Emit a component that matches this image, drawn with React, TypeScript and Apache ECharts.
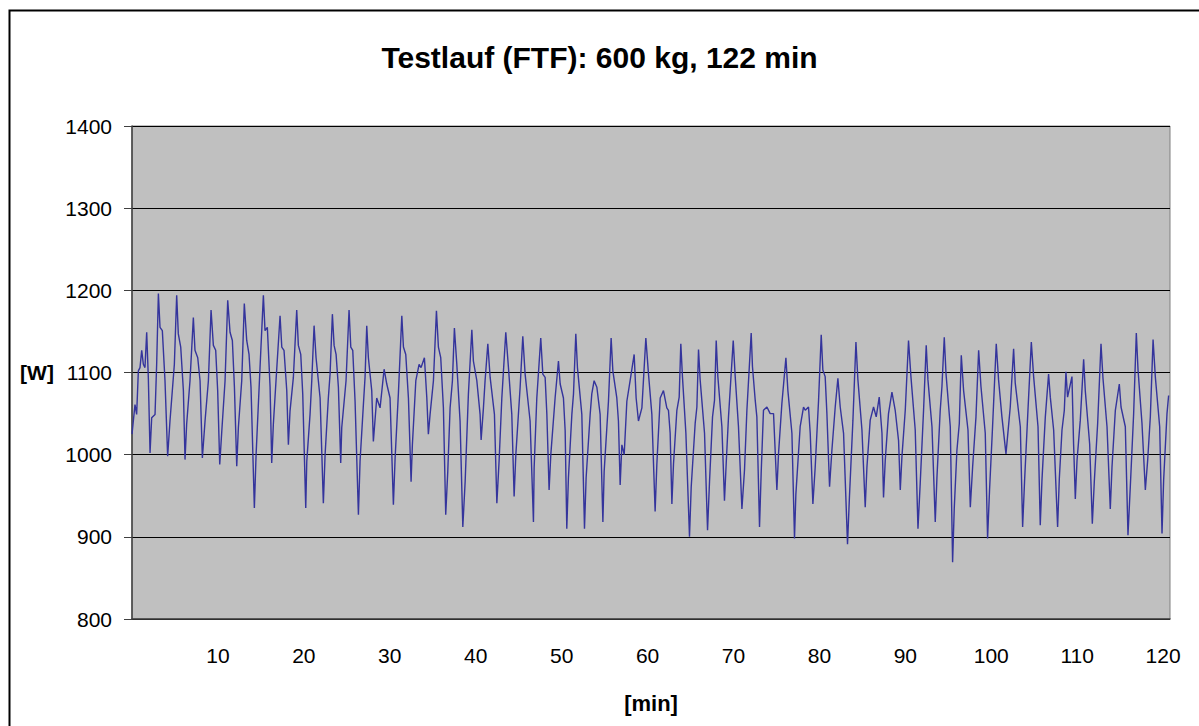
import React, { useEffect, useRef } from "react";
import * as echarts from "echarts";

// Time axis in minutes and measured power in watts
const minutes: number[] = [
  0.0, 0.35, 0.54, 0.74, 0.93, 1.13, 1.32, 1.51, 1.71, 1.9, 2.1, 2.29, 2.68, 2.87, 3.07, 3.26, 3.53, 3.84, 4.15, 4.42,
  4.93, 5.2, 5.39, 5.67, 5.98, 6.17, 6.36, 6.75, 7.14, 7.33, 7.65, 7.92, 8.19, 8.5, 8.89, 9.2, 9.47, 9.74, 9.97, 10.21,
  10.44, 10.83, 11.14, 11.41, 11.68, 11.92, 12.19, 12.38, 12.77, 13.07, 13.35, 13.62, 13.85, 14.24, 14.44, 14.9, 15.29,
  15.48, 15.75, 16.07, 16.26, 16.45, 16.76, 17.23, 17.43, 17.69, 18.01, 18.2, 18.39, 18.78, 19.17, 19.36, 19.64, 19.87,
  20.22, 20.34, 20.72, 20.92, 21.19, 21.42, 21.89, 22.27, 22.47, 22.85, 23.05, 23.32, 23.52, 23.75, 24.02, 24.29, 24.41,
  24.91, 25.26, 25.46, 25.69, 25.96, 26.35, 26.54, 26.93, 27.12, 27.32, 27.51, 27.9, 28.09, 28.48, 28.87, 29.34, 29.65,
  30.03, 30.42, 30.62, 31.0,
  31.4, 31.59, 31.86, 32.17, 32.48, 32.63, 33.03, 33.41, 33.64, 34.03, 34.31, 34.49, 34.69, 35.08, 35.43, 35.66, 35.93,
  36.24, 36.51, 36.75, 37.02, 37.29, 37.52, 37.8, 38.18, 38.5, 38.77, 39.15, 39.55, 39.73, 40.13, 40.51, 40.63, 40.9,
  41.09, 41.41, 41.68, 42.18, 42.46, 42.72, 43.04, 43.5, 43.81, 44.2, 44.47, 44.67, 45.17, 45.48, 45.75, 46.33, 46.72,
  46.8, 47.11, 47.57, 47.81, 48.08, 48.28, 48.54, 48.74, 49.24, 49.63, 49.83, 50.21, 50.41, 50.6, 50.79, 51.19, 51.38,
  51.65, 51.84, 52.35, 52.66, 52.85, 53.32, 53.51, 53.78, 54.1, 54.48, 54.8, 54.95, 55.45, 55.76, 55.96, 56.42, 56.61,
  56.81, 57.01, 57.28, 57.59, 57.97, 58.44, 58.67, 58.94, 59.34, 59.8, 60.11, 60.5, 60.88, 61.08, 61.47, 61.85, 62.24,
  62.43, 62.63, 62.83, 63.02, 63.41, 63.68, 63.87, 64.06, 64.46, 64.88, 65.08, 65.54, 65.74, 65.93, 66.12, 66.63, 66.98,
  67.21, 67.56, 67.79, 67.99, 68.18, 68.65, 68.95, 69.15, 69.42, 69.97, 70.2, 70.58, 70.98, 71.28, 71.56, 72.06, 72.21,
  72.53, 72.72, 73.03, 73.22, 73.49, 73.89, 74.27, 74.66, 75.05, 75.24, 75.63, 76.1, 76.33, 76.8, 77.1, 77.26, 77.76,
  78.15,
  78.35, 78.73, 78.93, 79.24, 79.51, 79.9, 80.21, 80.4, 80.67, 80.87, 81.18, 81.45, 81.84, 82.15, 82.42, 82.81, 83.27,
  83.5, 83.9, 84.25, 84.48, 84.95, 85.33, 85.53, 85.91, 86.3, 86.61, 86.96, 87.28, 87.46, 87.66, 88.04, 88.44, 88.82,
  89.21, 89.41, 89.6, 89.99, 90.37, 90.65, 91.15, 91.47, 91.73, 92.12, 92.43, 92.63, 93.1, 93.48,
  93.68, 94.06, 94.26, 94.53, 94.73, 95.23, 95.5, 95.69, 96.0, 96.28, 96.51, 96.78, 97.29, 97.56, 97.83, 98.22, 98.53,
  98.8, 99.3, 99.57, 99.8, 100.15, 100.58, 100.85, 101.24, 101.71, 102.21, 102.6, 102.79, 103.38, 103.65, 103.88,
  104.27, 104.66, 104.93, 105.44, 105.7, 105.9, 106.29, 106.67, 106.87, 107.26, 107.72, 107.92,
  108.23, 108.5, 108.69, 108.88, 109.39, 109.58, 109.78, 109.98, 110.36, 110.75, 110.94, 111.45, 111.76, 111.99,
  112.38, 112.77, 113.0, 113.47, 113.85, 114.05, 114.44, 114.9, 115.1, 115.6, 115.91, 116.18, 116.57, 116.88, 117.08,
  117.54, 117.93, 118.2, 118.51, 118.83, 119.09, 119.6, 119.87, 120.06, 120.45, 120.64,
];

const watts: number[] = [
  1025, 1061, 1049, 1102, 1106, 1127, 1110, 1106, 1149, 1094, 1002, 1045, 1049, 1110, 1196, 1155, 1151, 1090, 998, 1041,
  1110, 1194, 1147, 1131, 1078, 994, 1037, 1090, 1167, 1127, 1118, 1090, 996, 1041, 1090, 1176, 1133, 1127, 1078, 988,
  1027, 1090, 1188, 1149, 1139, 1082, 986, 1033, 1090, 1184, 1139, 1122, 1082, 935, 1000, 1106, 1194,
  1151, 1155, 1082, 990, 1037, 1090, 1169, 1131, 1127, 1078, 1012, 1053, 1094, 1176, 1133, 1122, 1074,
  935, 992, 1049, 1090, 1157, 1118, 1069, 941, 1000, 1069, 1098, 1171, 1133, 1122, 1082, 990, 1033,
  1090, 1176, 1131, 1127, 1065, 927, 992, 1061, 1094, 1157, 1118, 1078, 1016, 1069, 1057, 1104, 1086,
  1069, 939, 996, 1074,
  1169, 1131, 1122, 1069, 967, 1012, 1090, 1110, 1106, 1118, 1069, 1025, 1049, 1090, 1175, 1131, 1118,
  1057, 927, 980, 1057, 1090, 1154, 1110, 1041, 912, 967, 1074, 1152, 1114, 1090, 1049, 1018, 1057,
  1090, 1135, 1094, 1049, 941, 992, 1069, 1149, 1106, 1049, 949, 1000, 1082, 1144, 1098, 1041, 918,
  984, 1069, 1142, 1098, 1094, 1049, 957, 1000, 1069, 1114, 1086, 1069, 1029, 910, 972, 1049, 1074,
  1147, 1106, 1049, 910, 972, 1049, 1074, 1090, 1082, 1049, 918, 980, 1065, 1142, 1102, 1069, 1041,
  963, 1012, 1000, 1065, 1090, 1122, 1069, 1041, 1057, 1142, 1098, 1049, 931, 988, 1069, 1078, 1057,
  1054, 1026, 940, 989, 1054, 1070, 1135, 1095, 1026, 900, 961, 1038, 1058, 1128, 1091, 1026, 908,
  967, 1046, 1066, 1139, 1095, 1034, 944, 989, 1046, 1139, 1095, 1034, 934, 981, 1054, 1148, 1107,
  1066, 1046, 912, 977, 1054, 1058, 1050, 1050, 957, 1001, 1062, 1118, 1078, 1026, 898, 952, 1034,
  1058,
  1054, 1058, 1026, 940, 985, 1066, 1146, 1103, 1095, 1050, 961, 1005, 1058, 1093, 1058, 1026, 891,
  950, 1042, 1137, 1091, 1030, 936, 985, 1042, 1058, 1046, 1070, 1026, 948, 993, 1050, 1076, 1054,
  1017, 957, 997, 1054, 1139, 1095, 1030, 910, 965, 1054, 1133, 1091, 1034, 918,
  973, 1054, 1083, 1143, 1099, 1034, 869, 934, 1005, 1038, 1121, 1078, 1030, 936, 985, 1046, 1127,
  1083, 1026, 898, 957, 1034, 1135, 1091, 1046, 1001, 1058, 1129, 1087, 1034, 912, 969,
  1054, 1137, 1095, 1034, 914, 969, 1046, 1098, 1070, 1030, 912, 971,
  1030, 1054, 1101, 1070, 1095, 1013, 946, 993, 1042, 1116, 1078, 1013, 916, 967,
  1038, 1135, 1093, 1034, 934, 985, 1054, 1086, 1058, 1034, 902, 961, 1050, 1148, 1103,
  1038, 957, 993, 1046, 1140, 1095, 1034, 904, 969, 1050, 1072,
];

const titleText = "Testlauf (FTF): 600 kg, 122 min";
const yAxisName = "[W]";
const xAxisName = "[min]";

const FONT = "'Liberation Sans', Arial, sans-serif";

export default function App() {
  const ref = useRef<HTMLDivElement>(null);

  useEffect(() => {
    if (!ref.current) return;
    const chart = echarts.init(ref.current, undefined, { renderer: "svg" });
    const points = minutes.map((m, i) => [m, watts[i]]);

    chart.setOption({
      animation: false,
      backgroundColor: "#ffffff",
      textStyle: { fontFamily: FONT },
      title: {
        text: titleText,
        left: "center",
        top: 37,
        textStyle: { fontFamily: FONT, fontSize: 30, fontWeight: "bold", color: "#000" },
      },
      grid: {
        left: 132,
        top: 126,
        width: 1038,
        height: 493,
        show: true,
        backgroundColor: "#c0c0c0",
        borderColor: "#808080",
        borderWidth: 1,
      },
      xAxis: {
        type: "value",
        min: 0,
        max: 120.8,
        interval: 10,
        axisLine: { show: true, lineStyle: { color: "#404040", width: 1.5 } },
        axisTick: { show: false },
        splitLine: { show: false },
        axisLabel: {
          margin: 26,
          fontSize: 21,
          color: "#000",
          fontFamily: FONT,
          formatter: (v: number) => (v === 0 || v > 120 ? "" : String(v)),
        },
      },
      yAxis: {
        type: "value",
        min: 800,
        max: 1400,
        interval: 100,
        axisLine: { show: true, lineStyle: { color: "#404040", width: 1.5 } },
        axisTick: { show: true, length: 8, lineStyle: { color: "#404040" } },
        splitLine: { show: true, lineStyle: { color: "#000000", width: 1 } },
        axisLabel: {
          margin: 20,
          fontSize: 21,
          color: "#000",
          fontFamily: FONT,
          formatter: (v: number) => String(v),
        },
      },
      graphic: [
        {
          type: "rect",
          shape: { x: 9.5, y: 10.5, width: 1400, height: 900 },
          style: { fill: "none", stroke: "#000", lineWidth: 2 },
          silent: true,
        },
        {
          type: "text",
          x: 37,
          y: 372,
          style: {
            text: yAxisName,
            fontFamily: FONT,
            fontSize: 21,
            fontWeight: "bold",
            fill: "#000",
            align: "center",
            verticalAlign: "middle",
          },
        },
        {
          type: "text",
          x: 651,
          y: 703,
          style: {
            text: xAxisName,
            fontFamily: FONT,
            fontSize: 22,
            fontWeight: "bold",
            fill: "#000",
            align: "center",
            verticalAlign: "middle",
          },
        },
      ],
      series: [
        {
          type: "line",
          data: points,
          showSymbol: false,
          symbol: "none",
          lineStyle: { color: "#34349c", width: 1.4 },
          z: 3,
        },
      ],
    });

    return () => chart.dispose();
  }, []);

  return (
    <div
      ref={ref}
      style={{ position: "fixed", left: 0, top: 0, width: 1199, height: 726 }}
    />
  );
}
